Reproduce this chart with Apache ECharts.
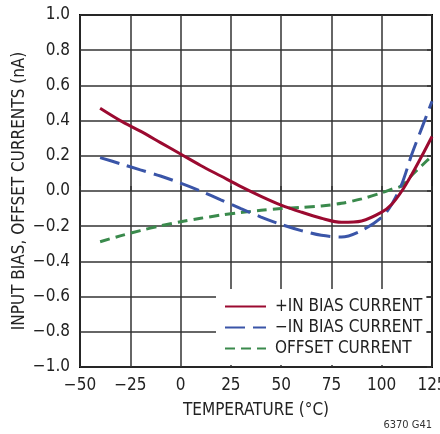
<!DOCTYPE html>
<html>
<head>
<meta charset="utf-8">
<script src="https://cdn.jsdelivr.net/npm/echarts@6/dist/echarts.min.js"></script>
<style>
  html, body { margin: 0; padding: 0; background: #fff; }
  #main { width: 440px; height: 434px; }
</style>
</head>
<body>
<div id="main"></div>
<script>
// temperature (°C) and currents (nA)
var temps = [-40, -30, -20, -10, 0, 10, 20, 30, 40, 50, 60, 70, 80, 90, 100, 105, 110, 115, 120, 125];
var plusBias  = [0.47, 0.40, 0.34, 0.275, 0.21, 0.145, 0.085, 0.025, -0.03, -0.08, -0.12, -0.155, -0.178, -0.17, -0.12, -0.075, 0.0, 0.095, 0.20, 0.31];
var minusBias = [0.19, 0.155, 0.12, 0.085, 0.045, 0.0, -0.05, -0.1, -0.148, -0.19, -0.225, -0.252, -0.262, -0.225, -0.15, -0.075, 0.04, 0.21, 0.36, 0.51];
var offset    = [-0.288, -0.255, -0.225, -0.198, -0.175, -0.155, -0.137, -0.122, -0.11, -0.10, -0.093, -0.085, -0.07, -0.045, -0.01, 0.01, 0.03, 0.09, 0.145, 0.20];
var names = ['+IN BIAS CURRENT', '\u2212IN BIAS CURRENT', 'OFFSET CURRENT'];

var font = "'DejaVu Sans Condensed', 'Liberation Sans Narrow', sans-serif";

function pairs(ys) {
    return temps.map(function (t, i) { return [t, ys[i]]; });
}
function minus(s) { return String(s).replace('-', '\u2212'); }

var myChart = echarts.init(document.getElementById('main'));
var option = {
    animation: false,
    textStyle: { fontFamily: font },
    grid: {
        left: 80, right: 8, top: 15, bottom: 67,
        outerBoundsMode: 'none', containLabel: false,
        show: true, borderColor: '#000', borderWidth: 2
    },
    legend: {
        orient: 'vertical',
        left: 216, top: 289,
        padding: [9, 4, 8, 8],
        itemWidth: 41, itemHeight: 14, itemGap: 4,
        backgroundColor: '#fff',
        itemStyle: { opacity: 0 },
        textStyle: { fontFamily: font, fontSize: 17, color: '#222', padding: [0, 0, 0, 4] },
        data: names
    },
    xAxis: {
        type: 'value', min: -50, max: 125, interval: 25,
        name: 'TEMPERATURE (°C)', nameLocation: 'middle', nameGap: 35,
        nameMoveOverlap: false,
        nameTextStyle: { fontFamily: font, fontSize: 17, color: '#222' },
        axisLine: { show: false },
        axisTick: { show: true, inside: true, length: 5, lineStyle: { color: '#333', width: 1.5 } },
        axisLabel: { margin: 10, fontSize: 17, color: '#222', formatter: function (v) { return minus(v); } },
        splitLine: { lineStyle: { color: '#333', width: 1.5 } }
    },
    yAxis: [{
        type: 'value', min: -1, max: 1, interval: 0.2,
        name: 'INPUT BIAS, OFFSET CURRENTS (nA)', nameLocation: 'middle', nameGap: 52,
        nameMoveOverlap: false,
        nameTextStyle: { fontFamily: font, fontSize: 17, color: '#222' },
        axisLine: { show: false },
        axisTick: { show: false },
        axisLabel: { margin: 10, fontSize: 17, color: '#222', formatter: function (v) { return minus(v.toFixed(1)); } },
        splitLine: { lineStyle: { color: '#333', width: 1.5 } }
    }, {
        type: 'value', min: -1, max: 1, interval: 0.2, position: 'right',
        axisLine: { show: false },
        axisTick: { show: true, inside: true, length: 5, lineStyle: { color: '#333', width: 1.5 } },
        axisLabel: { show: false },
        splitLine: { show: false }
    }],
    series: [{
        name: names[0], type: 'line', smooth: 0.3, showSymbol: false, symbol: 'none',
        lineStyle: { color: '#9b0a30', width: 3 }, itemStyle: { color: '#9b0a30' },
        data: pairs(plusBias), z: 3
    }, {
        name: names[1], type: 'line', smooth: 0.3, showSymbol: false, symbol: 'none',
        lineStyle: { color: '#3a55a8', width: 3, type: [20, 8] }, itemStyle: { color: '#3a55a8' },
        data: pairs(minusBias), z: 2
    }, {
        name: names[2], type: 'line', smooth: 0.3, showSymbol: false, symbol: 'none',
        lineStyle: { color: '#3a8a4c', width: 3, type: [10, 6] }, itemStyle: { color: '#3a8a4c' },
        data: pairs(offset), z: 1
    }],
    graphic: [{
        type: 'text', right: 8, bottom: 3,
        style: { text: '6370 G41', fontFamily: font, fontSize: 11, fill: '#333' }
    }]
};
myChart.setOption(option);
</script>
</body>
</html>
